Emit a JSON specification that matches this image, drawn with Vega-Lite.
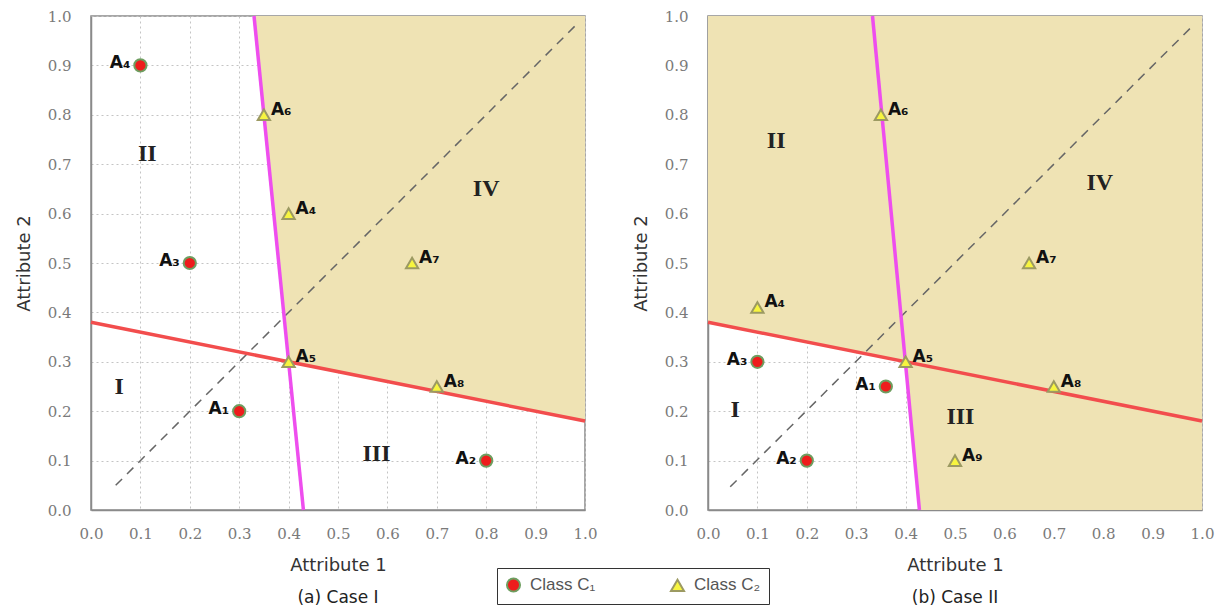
{
  "$schema": "https://vega.github.io/schema/vega-lite/v6.json",
  "background": "white",
  "padding": {"left": 14, "top": 8, "right": 20, "bottom": 5},
  "spacing": 33,
  "datasets": {
    "points": [
      {"panel": "a", "cls": "Class C₁", "name": "A₄", "x": 0.1, "y": 0.9},
      {"panel": "a", "cls": "Class C₁", "name": "A₃", "x": 0.2, "y": 0.5},
      {"panel": "a", "cls": "Class C₁", "name": "A₁", "x": 0.3, "y": 0.2},
      {"panel": "a", "cls": "Class C₁", "name": "A₂", "x": 0.8, "y": 0.1},
      {"panel": "a", "cls": "Class C₂", "name": "A₆", "x": 0.35, "y": 0.8},
      {"panel": "a", "cls": "Class C₂", "name": "A₄", "x": 0.4, "y": 0.6},
      {"panel": "a", "cls": "Class C₂", "name": "A₅", "x": 0.4, "y": 0.3},
      {"panel": "a", "cls": "Class C₂", "name": "A₇", "x": 0.65, "y": 0.5},
      {"panel": "a", "cls": "Class C₂", "name": "A₈", "x": 0.7, "y": 0.25},
      {"panel": "b", "cls": "Class C₁", "name": "A₃", "x": 0.1, "y": 0.3},
      {"panel": "b", "cls": "Class C₁", "name": "A₁", "x": 0.36, "y": 0.25},
      {"panel": "b", "cls": "Class C₁", "name": "A₂", "x": 0.2, "y": 0.1},
      {"panel": "b", "cls": "Class C₂", "name": "A₄", "x": 0.1, "y": 0.41},
      {"panel": "b", "cls": "Class C₂", "name": "A₆", "x": 0.35, "y": 0.8},
      {"panel": "b", "cls": "Class C₂", "name": "A₅", "x": 0.4, "y": 0.3},
      {"panel": "b", "cls": "Class C₂", "name": "A₇", "x": 0.65, "y": 0.5},
      {"panel": "b", "cls": "Class C₂", "name": "A₈", "x": 0.7, "y": 0.25},
      {"panel": "b", "cls": "Class C₂", "name": "A₉", "x": 0.5, "y": 0.1}
    ],
    "lines": [
      {"panel": "a", "line": "red", "x": 0, "y": 0.38},
      {"panel": "a", "line": "red", "x": 1, "y": 0.18},
      {"panel": "a", "line": "magenta", "x": 0.33, "y": 1},
      {"panel": "a", "line": "magenta", "x": 0.43, "y": 0},
      {"panel": "a", "line": "diag", "x": 0.05, "y": 0.05},
      {"panel": "a", "line": "diag", "x": 0.98, "y": 0.98},
      {"panel": "b", "line": "red", "x": 0, "y": 0.38},
      {"panel": "b", "line": "red", "x": 1, "y": 0.18},
      {"panel": "b", "line": "magenta", "x": 0.333, "y": 1},
      {"panel": "b", "line": "magenta", "x": 0.428, "y": 0},
      {"panel": "b", "line": "diag", "x": 0.045, "y": 0.047},
      {"panel": "b", "line": "diag", "x": 0.976, "y": 0.975}
    ],
    "shade": [
      {"panel": "a", "x": 0.33, "ylo": 1, "yhi": 1},
      {"panel": "a", "x": 0.4, "ylo": 0.3, "yhi": 1},
      {"panel": "a", "x": 1, "ylo": 0.18, "yhi": 1},
      {"panel": "b", "x": 0, "ylo": 0.38, "yhi": 1},
      {"panel": "b", "x": 0.4, "ylo": 0.3, "yhi": 1},
      {"panel": "b", "x": 0.43, "ylo": 0, "yhi": 1},
      {"panel": "b", "x": 1, "ylo": 0, "yhi": 1}
    ],
    "regions": [
      {"panel": "a", "label": "I", "x": 0.057, "y": 0.25},
      {"panel": "a", "label": "II", "x": 0.114, "y": 0.72},
      {"panel": "a", "label": "III", "x": 0.578, "y": 0.114},
      {"panel": "a", "label": "IV", "x": 0.8, "y": 0.65},
      {"panel": "b", "label": "I", "x": 0.055, "y": 0.203},
      {"panel": "b", "label": "II", "x": 0.138, "y": 0.746},
      {"panel": "b", "label": "III", "x": 0.511, "y": 0.189},
      {"panel": "b", "label": "IV", "x": 0.793, "y": 0.661}
    ]
  },
  "config": {
    "view": {"stroke": "#8a8a8a", "strokeWidth": 1.5},
    "axis": {
      "grid": true, "gridColor": "#c4c4c4", "gridDash": [2, 3], "gridWidth": 1,
      "ticks": false, "domainColor": "#8a8a8a", "domainWidth": 1.5, "labelFlush": false,
      "labelFont": "DejaVu Serif", "labelFontSize": 15, "labelColor": "#7a7a7a",
      "titleFont": "DejaVu Sans", "titleFontSize": 18, "titleColor": "#333333", "titleFontWeight": "normal",
      "values": [0, 0.1, 0.2, 0.3, 0.4, 0.5, 0.6, 0.7, 0.8, 0.9, 1.0], "format": ".1f"
    },
    "axisX": {"labelPadding": 16, "titlePadding": 15},
    "axisY": {"labelPadding": 20, "titlePadding": 14},
    "title": {"font": "DejaVu Sans", "fontSize": 17, "fontWeight": "normal", "color": "#222222", "orient": "bottom", "offset": 16},
    "legend": {
      "orient": "none", "legendX": 406, "legendY": 552, "direction": "horizontal",
      "strokeColor": "#333333", "padding": 8, "columnPadding": 70,
      "labelFont": "Liberation Sans", "labelFontSize": 17, "labelColor": "#555555",
      "symbolSize": 170, "title": null, "symbolStrokeWidth": 2, "labelOffset": 8
    }
  },
  "hconcat": [
    {
      "width": 494, "height": 494,
      "title": {"text": "(a)  Case I"},
      "layer": [
        {"data": {"name": "shade"}, "transform": [{"filter": "datum.panel == 'a'"}],
         "mark": {"type": "area", "color": "#EFE3B4", "opacity": 1},
         "encoding": {
           "x": {"field": "x", "type": "quantitative", "scale": {"domain": [0, 1], "nice": false}, "title": "Attribute 1"},
           "y": {"field": "yhi", "type": "quantitative", "scale": {"domain": [0, 1], "nice": false}, "title": "Attribute 2"},
           "y2": {"field": "ylo"}
         }},
        {"data": {"name": "lines"}, "transform": [{"filter": "datum.panel == 'a' && datum.line == 'diag'"}],
         "mark": {"type": "line", "color": "#666666", "strokeWidth": 1.5, "strokeDash": [9, 7]},
         "encoding": {"x": {"field": "x", "type": "quantitative"}, "y": {"field": "y", "type": "quantitative"}}},
        {"data": {"name": "lines"}, "transform": [{"filter": "datum.panel == 'a' && datum.line == 'red'"}],
         "mark": {"type": "line", "color": "#F24D4D", "strokeWidth": 3.5},
         "encoding": {"x": {"field": "x", "type": "quantitative"}, "y": {"field": "y", "type": "quantitative"}}},
        {"data": {"name": "lines"}, "transform": [{"filter": "datum.panel == 'a' && datum.line == 'magenta'"}],
         "mark": {"type": "line", "color": "#EE4EEE", "strokeWidth": 3.5},
         "encoding": {"x": {"field": "x", "type": "quantitative"}, "y": {"field": "y", "type": "quantitative"}}},
        {"data": {"name": "regions"}, "transform": [{"filter": "datum.panel == 'a'"}],
         "mark": {"type": "text", "font": "Liberation Serif", "fontWeight": "bold", "fontSize": 24, "color": "#222222", "baseline": "middle"},
         "encoding": {"x": {"field": "x", "type": "quantitative"}, "y": {"field": "y", "type": "quantitative"}, "text": {"field": "label"}}},
        {"data": {"name": "points"}, "transform": [{"filter": "datum.panel == 'a'"}],
         "mark": {"type": "point", "filled": true, "strokeWidth": 2, "opacity": 1, "size": 150},
         "encoding": {
           "x": {"field": "x", "type": "quantitative"}, "y": {"field": "y", "type": "quantitative"},
           "shape": {"field": "cls", "type": "nominal", "scale": {"domain": ["Class C₁", "Class C₂"], "range": ["circle", "triangle-up"]}},
           "color": {"field": "cls", "type": "nominal", "scale": {"domain": ["Class C₁", "Class C₂"], "range": ["#EE1C1C", "#F7F53F"]}},
           "stroke": {"field": "cls", "type": "nominal", "scale": {"domain": ["Class C₁", "Class C₂"], "range": ["#6E9E60", "#9C9A62"]}}
         }},
        {"data": {"name": "points"}, "transform": [{"filter": "datum.panel == 'a' && datum.cls == 'Class C₁'"}],
         "mark": {"type": "text", "font": "DejaVu Sans", "fontWeight": "bold", "fontSize": 17, "color": "#111111", "align": "right", "dx": -10, "dy": -2},
         "encoding": {"x": {"field": "x", "type": "quantitative"}, "y": {"field": "y", "type": "quantitative"}, "text": {"field": "name"}}},
        {"data": {"name": "points"}, "transform": [{"filter": "datum.panel == 'a' && datum.cls == 'Class C₂'"}],
         "mark": {"type": "text", "font": "DejaVu Sans", "fontWeight": "bold", "fontSize": 17, "color": "#111111", "align": "left", "dx": 7, "dy": -5},
         "encoding": {"x": {"field": "x", "type": "quantitative"}, "y": {"field": "y", "type": "quantitative"}, "text": {"field": "name"}}}
      ]
    },
    {
      "width": 494, "height": 494,
      "title": {"text": "(b)  Case II"},
      "layer": [
        {"data": {"name": "shade"}, "transform": [{"filter": "datum.panel == 'b'"}],
         "mark": {"type": "area", "color": "#EFE3B4", "opacity": 1},
         "encoding": {
           "x": {"field": "x", "type": "quantitative", "scale": {"domain": [0, 1], "nice": false}, "title": "Attribute 1"},
           "y": {"field": "yhi", "type": "quantitative", "scale": {"domain": [0, 1], "nice": false}, "title": "Attribute 2"},
           "y2": {"field": "ylo"}
         }},
        {"data": {"name": "lines"}, "transform": [{"filter": "datum.panel == 'b' && datum.line == 'diag'"}],
         "mark": {"type": "line", "color": "#666666", "strokeWidth": 1.5, "strokeDash": [9, 7]},
         "encoding": {"x": {"field": "x", "type": "quantitative"}, "y": {"field": "y", "type": "quantitative"}}},
        {"data": {"name": "lines"}, "transform": [{"filter": "datum.panel == 'b' && datum.line == 'red'"}],
         "mark": {"type": "line", "color": "#F24D4D", "strokeWidth": 3.5},
         "encoding": {"x": {"field": "x", "type": "quantitative"}, "y": {"field": "y", "type": "quantitative"}}},
        {"data": {"name": "lines"}, "transform": [{"filter": "datum.panel == 'b' && datum.line == 'magenta'"}],
         "mark": {"type": "line", "color": "#EE4EEE", "strokeWidth": 3.5},
         "encoding": {"x": {"field": "x", "type": "quantitative"}, "y": {"field": "y", "type": "quantitative"}}},
        {"data": {"name": "regions"}, "transform": [{"filter": "datum.panel == 'b'"}],
         "mark": {"type": "text", "font": "Liberation Serif", "fontWeight": "bold", "fontSize": 24, "color": "#222222", "baseline": "middle"},
         "encoding": {"x": {"field": "x", "type": "quantitative"}, "y": {"field": "y", "type": "quantitative"}, "text": {"field": "label"}}},
        {"data": {"name": "points"}, "transform": [{"filter": "datum.panel == 'b'"}],
         "mark": {"type": "point", "filled": true, "strokeWidth": 2, "opacity": 1, "size": 150},
         "encoding": {
           "x": {"field": "x", "type": "quantitative"}, "y": {"field": "y", "type": "quantitative"},
           "shape": {"field": "cls", "type": "nominal", "scale": {"domain": ["Class C₁", "Class C₂"], "range": ["circle", "triangle-up"]}},
           "color": {"field": "cls", "type": "nominal", "scale": {"domain": ["Class C₁", "Class C₂"], "range": ["#EE1C1C", "#F7F53F"]}},
           "stroke": {"field": "cls", "type": "nominal", "scale": {"domain": ["Class C₁", "Class C₂"], "range": ["#6E9E60", "#9C9A62"]}}
         }},
        {"data": {"name": "points"}, "transform": [{"filter": "datum.panel == 'b' && datum.cls == 'Class C₁'"}],
         "mark": {"type": "text", "font": "DejaVu Sans", "fontWeight": "bold", "fontSize": 17, "color": "#111111", "align": "right", "dx": -10, "dy": -2},
         "encoding": {"x": {"field": "x", "type": "quantitative"}, "y": {"field": "y", "type": "quantitative"}, "text": {"field": "name"}}},
        {"data": {"name": "points"}, "transform": [{"filter": "datum.panel == 'b' && datum.cls == 'Class C₂'"}],
         "mark": {"type": "text", "font": "DejaVu Sans", "fontWeight": "bold", "fontSize": 17, "color": "#111111", "align": "left", "dx": 7, "dy": -5},
         "encoding": {"x": {"field": "x", "type": "quantitative"}, "y": {"field": "y", "type": "quantitative"}, "text": {"field": "name"}}}
      ]
    }
  ]
}
